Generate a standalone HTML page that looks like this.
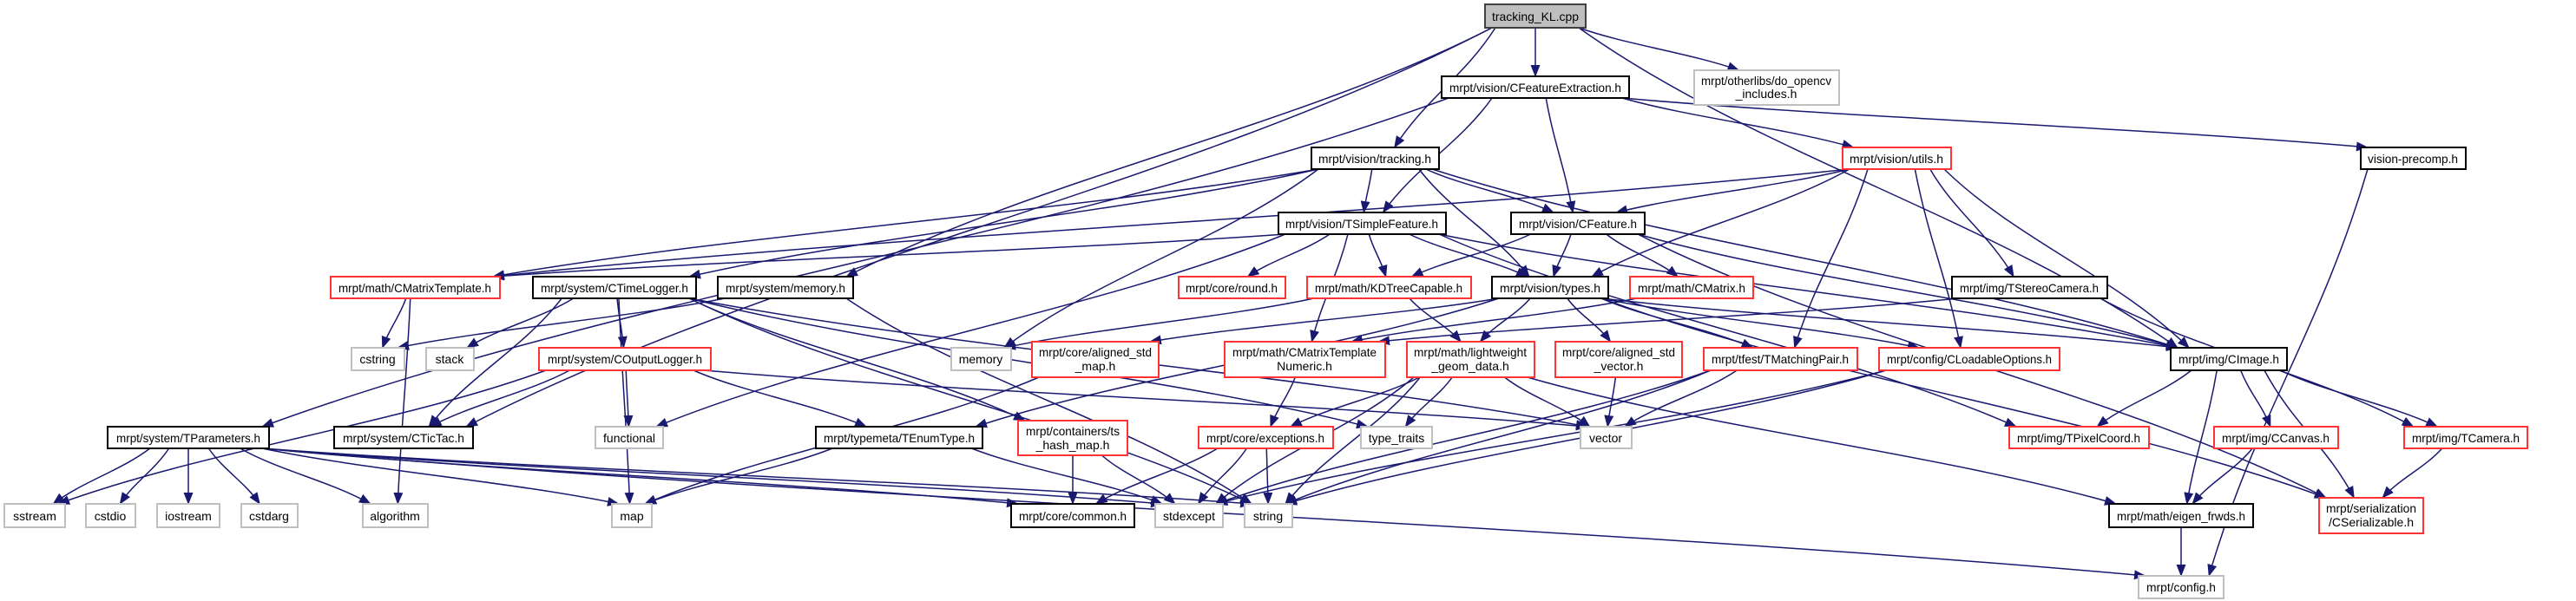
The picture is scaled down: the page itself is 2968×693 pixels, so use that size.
<!DOCTYPE html>
<html><head><meta charset="utf-8">
<style>
html,body{margin:0;padding:0;background:#fff;width:2968px;height:693px;overflow:hidden}
svg{display:block}
text{font-family:"Liberation Sans",sans-serif;font-size:14px;fill:#000}
</style></head><body>
<svg id="g" width="2968" height="693" viewBox="0 0 2968 693" xmlns="http://www.w3.org/2000/svg">
<defs><marker id="ah" markerWidth="14" markerHeight="11" refX="13" refY="5.5" orient="auto" markerUnits="userSpaceOnUse"><path d="M0,0 L14,5.5 L0,11 z" fill="#191970"/></marker></defs>
<g id="edges" fill="none" stroke="#191970" stroke-width="1.5"></g>
</svg>
<script>
var N={
KL:[1711,5,1827,32],CFE:[1661,88,1877,113],OCV:[1952,81,2119,121],TRK:[1511,170,1658,195],UTL:[2123,170,2248,195],VPC:[2720,170,2841,195],
TSF:[1473,245,1666,270],CFT:[1741,245,1895,270],CMT:[381,319,576,344],CTL:[614,319,802,344],SMEM:[827,319,983,344],RND:[1358,319,1481,344],
KDT:[1506,319,1695,344],TYP:[1719,319,1853,344],CMX:[1878,319,2020,344],TST:[2249,319,2428,344],CSTR:[405,401,466,427],STK:[491,401,546,427],
COL:[621,401,819,427],MEM:[1096,401,1165,427],ASM:[1189,394,1335,435],CMTN:[1411,394,1596,435],LWG:[1621,394,1768,435],ASV:[1792,394,1938,435],
TMP:[1963,401,2140,427],CLO:[2165,401,2373,427],CIM:[2501,401,2635,427],TPA:[124,492,310,517],CTT:[385,492,545,517],FUN:[686,492,764,517],
TET:[940,492,1132,517],TSH:[1173,485,1299,525],EXC:[1381,492,1536,517],TTR:[1568,492,1650,517],VEC:[1821,492,1880,517],TPC:[2315,492,2476,517],
CCV:[2551,492,2694,517],TCM:[2770,492,2912,517],SST:[5,581,75,608],CIO:[99,581,156,608],IOS:[181,581,253,608],CDA:[278,581,343,608],
ALG:[418,581,493,608],MAP:[705,581,751,608],COM:[1165,581,1307,608],SEX:[1331,581,1409,608],STR:[1434,581,1489,608],EIG:[2430,581,2596,608],
SER:[2672,574,2792,615],CFG:[2464,664,2562,690]
};
var E={
KL:['CFE','OCV','TRK','SMEM','CTT','CIM'],
CFE:['TPA','TSF','CFT','UTL','VPC'],
TRK:['CMT','CTL','TSF','CFT','TYP','MEM','CIM'],
UTL:['CMT','CFT','TYP','TMP','TST','CIM','CLO'],
TSF:['CMT','RND','KDT','TYP','CMTN','FUN','CIM','TPC'],
CFT:['KDT','TYP','CMX','CIM','SER'],
CMT:['CSTR','ALG'],
CTL:['STK','COL','MAP','CTT','TSH','TTR','VEC','STR'],
SMEM:['CSTR','STR'],
KDT:['MEM','LWG'],
TYP:['ASM','LWG','ASV','TMP','CLO','CIM','TET','SER'],
CMX:['CMTN'],
COL:['SST','CTT','FUN','TET','VEC'],
TPA:['SST','CIO','IOS','CDA','ALG','MAP','SEX','STR','COM','CFG'],
ASM:['MAP'],CMTN:['EXC'],
LWG:['EXC','TTR','VEC','SEX','STR','EIG'],
ASV:['VEC'],TMP:['VEC','SEX','STR'],CLO:['SEX','STR'],
CIM:['TPC','CCV','TCM','EIG','SER'],
TST:['TCM','CMTN'],TET:['MAP','SEX'],TSH:['COM','SEX'],EXC:['COM','SEX','STR'],
CCV:['EIG'],TCM:['SER'],EIG:['CFG'],VPC:['CFG']
};
var ns='http://www.w3.org/2000/svg';
var eg=document.getElementById('edges');
function cl(v,a,b){return Math.max(a,Math.min(b,v));}
for(var s in E){var S=N[s];var scx=(S[0]+S[2])/2;
E[s].forEach(function(t){var T=N[t];var tcx=(T[0]+T[2])/2;
var sx=cl(scx+(tcx-scx)*0.25,S[0]+8,S[2]-8),sy=S[3];
var tx=cl(tcx+(scx-tcx)*0.12,T[0]+8,T[2]-8),ty=T[1];
var dx=tx-sx,dy=ty-sy;
var c1x=sx+dx*0.3,c1y=sy+dy*0.4,c2x=tx-dx*0.3,c2y=ty-dy*0.4;
var p=document.createElementNS(ns,'path');
p.setAttribute('d','M'+sx+','+sy+' C'+c1x+','+c1y+' '+c2x+','+c2y+' '+tx+','+ty);
p.setAttribute('marker-end','url(#ah)');eg.appendChild(p);});}
</script>
<svg width="2968" height="693" viewBox="0 0 2968 693" style="position:absolute;left:0;top:0" xmlns="http://www.w3.org/2000/svg">
<g stroke-width="2">
<rect x="1711" y="5" width="116" height="27" fill="#bfbfbf" stroke="#404040"/><text x="1769" y="24" text-anchor="middle" textLength="100" lengthAdjust="spacingAndGlyphs">tracking_KL.cpp</text>
<rect x="1661" y="88" width="216" height="25" fill="#fff" stroke="#000"/><text x="1769" y="106" text-anchor="middle" textLength="198" lengthAdjust="spacingAndGlyphs">mrpt/vision/CFeatureExtraction.h</text>
<rect x="1952" y="81" width="167" height="40" fill="#fff" stroke="#bfbfbf"/><text x="2035" y="98" text-anchor="middle" textLength="150" lengthAdjust="spacingAndGlyphs">mrpt/otherlibs/do_opencv</text><text x="2035" y="113" text-anchor="middle">_includes.h</text>
<rect x="1511" y="170" width="147" height="25" fill="#fff" stroke="#000"/><text x="1584" y="188" text-anchor="middle" textLength="130" lengthAdjust="spacingAndGlyphs">mrpt/vision/tracking.h</text>
<rect x="2123" y="170" width="125" height="25" fill="#fff" stroke="#f33"/><text x="2185" y="188" text-anchor="middle" textLength="108" lengthAdjust="spacingAndGlyphs">mrpt/vision/utils.h</text>
<rect x="2720" y="170" width="121" height="25" fill="#fff" stroke="#000"/><text x="2780" y="188" text-anchor="middle" textLength="104" lengthAdjust="spacingAndGlyphs">vision-precomp.h</text>
<rect x="1473" y="245" width="193" height="25" fill="#fff" stroke="#000"/><text x="1569" y="263" text-anchor="middle" textLength="176" lengthAdjust="spacingAndGlyphs">mrpt/vision/TSimpleFeature.h</text>
<rect x="1741" y="245" width="154" height="25" fill="#fff" stroke="#000"/><text x="1818" y="263" text-anchor="middle" textLength="136" lengthAdjust="spacingAndGlyphs">mrpt/vision/CFeature.h</text>
<rect x="381" y="319" width="195" height="25" fill="#fff" stroke="#f33"/><text x="478" y="337" text-anchor="middle" textLength="176" lengthAdjust="spacingAndGlyphs">mrpt/math/CMatrixTemplate.h</text>
<rect x="614" y="319" width="188" height="25" fill="#fff" stroke="#000"/><text x="708" y="337" text-anchor="middle" textLength="170" lengthAdjust="spacingAndGlyphs">mrpt/system/CTimeLogger.h</text>
<rect x="827" y="319" width="156" height="25" fill="#fff" stroke="#000"/><text x="905" y="337" text-anchor="middle" textLength="138" lengthAdjust="spacingAndGlyphs">mrpt/system/memory.h</text>
<rect x="1358" y="319" width="123" height="25" fill="#fff" stroke="#f33"/><text x="1419" y="337" text-anchor="middle" textLength="106" lengthAdjust="spacingAndGlyphs">mrpt/core/round.h</text>
<rect x="1506" y="319" width="189" height="25" fill="#fff" stroke="#f33"/><text x="1600" y="337" text-anchor="middle" textLength="170" lengthAdjust="spacingAndGlyphs">mrpt/math/KDTreeCapable.h</text>
<rect x="1719" y="319" width="134" height="25" fill="#fff" stroke="#000"/><text x="1786" y="337" text-anchor="middle" textLength="116" lengthAdjust="spacingAndGlyphs">mrpt/vision/types.h</text>
<rect x="1878" y="319" width="142" height="25" fill="#fff" stroke="#f33"/><text x="1949" y="337" text-anchor="middle" textLength="124" lengthAdjust="spacingAndGlyphs">mrpt/math/CMatrix.h</text>
<rect x="2249" y="319" width="179" height="25" fill="#fff" stroke="#000"/><text x="2338" y="337" text-anchor="middle" textLength="160" lengthAdjust="spacingAndGlyphs">mrpt/img/TStereoCamera.h</text>
<rect x="405" y="401" width="61" height="26" fill="#fff" stroke="#bfbfbf"/><text x="435" y="419" text-anchor="middle">cstring</text>
<rect x="491" y="401" width="55" height="26" fill="#fff" stroke="#bfbfbf"/><text x="518" y="419" text-anchor="middle">stack</text>
<rect x="621" y="401" width="198" height="26" fill="#fff" stroke="#f33"/><text x="720" y="419" text-anchor="middle" textLength="178" lengthAdjust="spacingAndGlyphs">mrpt/system/COutputLogger.h</text>
<rect x="1096" y="401" width="69" height="26" fill="#fff" stroke="#bfbfbf"/><text x="1130" y="419" text-anchor="middle">memory</text>
<rect x="1189" y="394" width="146" height="41" fill="#fff" stroke="#f33"/><text x="1262" y="411" text-anchor="middle" textLength="130" lengthAdjust="spacingAndGlyphs">mrpt/core/aligned_std</text><text x="1262" y="427" text-anchor="middle">_map.h</text>
<rect x="1411" y="394" width="185" height="41" fill="#fff" stroke="#f33"/><text x="1503" y="411" text-anchor="middle" textLength="166" lengthAdjust="spacingAndGlyphs">mrpt/math/CMatrixTemplate</text><text x="1503" y="427" text-anchor="middle">Numeric.h</text>
<rect x="1621" y="394" width="147" height="41" fill="#fff" stroke="#f33"/><text x="1694" y="411" text-anchor="middle" textLength="130" lengthAdjust="spacingAndGlyphs">mrpt/math/lightweight</text><text x="1694" y="427" text-anchor="middle">_geom_data.h</text>
<rect x="1792" y="394" width="146" height="41" fill="#fff" stroke="#f33"/><text x="1865" y="411" text-anchor="middle" textLength="130" lengthAdjust="spacingAndGlyphs">mrpt/core/aligned_std</text><text x="1865" y="427" text-anchor="middle">_vector.h</text>
<rect x="1963" y="401" width="177" height="26" fill="#fff" stroke="#f33"/><text x="2051" y="419" text-anchor="middle" textLength="158" lengthAdjust="spacingAndGlyphs">mrpt/tfest/TMatchingPair.h</text>
<rect x="2165" y="401" width="208" height="26" fill="#fff" stroke="#f33"/><text x="2269" y="419" text-anchor="middle" textLength="190" lengthAdjust="spacingAndGlyphs">mrpt/config/CLoadableOptions.h</text>
<rect x="2501" y="401" width="134" height="26" fill="#fff" stroke="#000"/><text x="2568" y="419" text-anchor="middle" textLength="116" lengthAdjust="spacingAndGlyphs">mrpt/img/CImage.h</text>
<rect x="124" y="492" width="186" height="25" fill="#fff" stroke="#000"/><text x="217" y="510" text-anchor="middle" textLength="166" lengthAdjust="spacingAndGlyphs">mrpt/system/TParameters.h</text>
<rect x="385" y="492" width="160" height="25" fill="#fff" stroke="#000"/><text x="465" y="510" text-anchor="middle" textLength="140" lengthAdjust="spacingAndGlyphs">mrpt/system/CTicTac.h</text>
<rect x="686" y="492" width="78" height="25" fill="#fff" stroke="#bfbfbf"/><text x="725" y="510" text-anchor="middle">functional</text>
<rect x="940" y="492" width="192" height="25" fill="#fff" stroke="#000"/><text x="1036" y="510" text-anchor="middle" textLength="174" lengthAdjust="spacingAndGlyphs">mrpt/typemeta/TEnumType.h</text>
<rect x="1173" y="485" width="126" height="40" fill="#fff" stroke="#f33"/><text x="1236" y="502" text-anchor="middle" textLength="108" lengthAdjust="spacingAndGlyphs">mrpt/containers/ts</text><text x="1236" y="518" text-anchor="middle">_hash_map.h</text>
<rect x="1381" y="492" width="155" height="25" fill="#fff" stroke="#f33"/><text x="1458" y="510" text-anchor="middle" textLength="136" lengthAdjust="spacingAndGlyphs">mrpt/core/exceptions.h</text>
<rect x="1568" y="492" width="82" height="25" fill="#fff" stroke="#bfbfbf"/><text x="1609" y="510" text-anchor="middle">type_traits</text>
<rect x="1821" y="492" width="59" height="25" fill="#fff" stroke="#bfbfbf"/><text x="1850" y="510" text-anchor="middle">vector</text>
<rect x="2315" y="492" width="161" height="25" fill="#fff" stroke="#f33"/><text x="2395" y="510" text-anchor="middle" textLength="142" lengthAdjust="spacingAndGlyphs">mrpt/img/TPixelCoord.h</text>
<rect x="2551" y="492" width="143" height="25" fill="#fff" stroke="#f33"/><text x="2622" y="510" text-anchor="middle" textLength="124" lengthAdjust="spacingAndGlyphs">mrpt/img/CCanvas.h</text>
<rect x="2770" y="492" width="142" height="25" fill="#fff" stroke="#f33"/><text x="2841" y="510" text-anchor="middle" textLength="124" lengthAdjust="spacingAndGlyphs">mrpt/img/TCamera.h</text>
<rect x="5" y="581" width="70" height="27" fill="#fff" stroke="#bfbfbf"/><text x="40" y="600" text-anchor="middle">sstream</text>
<rect x="99" y="581" width="57" height="27" fill="#fff" stroke="#bfbfbf"/><text x="127" y="600" text-anchor="middle">cstdio</text>
<rect x="181" y="581" width="72" height="27" fill="#fff" stroke="#bfbfbf"/><text x="217" y="600" text-anchor="middle">iostream</text>
<rect x="278" y="581" width="65" height="27" fill="#fff" stroke="#bfbfbf"/><text x="310" y="600" text-anchor="middle">cstdarg</text>
<rect x="418" y="581" width="75" height="27" fill="#fff" stroke="#bfbfbf"/><text x="455" y="600" text-anchor="middle">algorithm</text>
<rect x="705" y="581" width="46" height="27" fill="#fff" stroke="#bfbfbf"/><text x="728" y="600" text-anchor="middle">map</text>
<rect x="1165" y="581" width="142" height="27" fill="#fff" stroke="#000"/><text x="1236" y="600" text-anchor="middle" textLength="124" lengthAdjust="spacingAndGlyphs">mrpt/core/common.h</text>
<rect x="1331" y="581" width="78" height="27" fill="#fff" stroke="#bfbfbf"/><text x="1370" y="600" text-anchor="middle">stdexcept</text>
<rect x="1434" y="581" width="55" height="27" fill="#fff" stroke="#bfbfbf"/><text x="1461" y="600" text-anchor="middle">string</text>
<rect x="2430" y="581" width="166" height="27" fill="#fff" stroke="#000"/><text x="2513" y="600" text-anchor="middle" textLength="148" lengthAdjust="spacingAndGlyphs">mrpt/math/eigen_frwds.h</text>
<rect x="2672" y="574" width="120" height="41" fill="#fff" stroke="#f33"/><text x="2732" y="591" text-anchor="middle" textLength="104" lengthAdjust="spacingAndGlyphs">mrpt/serialization</text><text x="2732" y="607" text-anchor="middle" textLength="98" lengthAdjust="spacingAndGlyphs">/CSerializable.h</text>
<rect x="2464" y="664" width="98" height="26" fill="#fff" stroke="#bfbfbf"/><text x="2513" y="682" text-anchor="middle" textLength="80" lengthAdjust="spacingAndGlyphs">mrpt/config.h</text>
</g>
</svg>
</body></html>
